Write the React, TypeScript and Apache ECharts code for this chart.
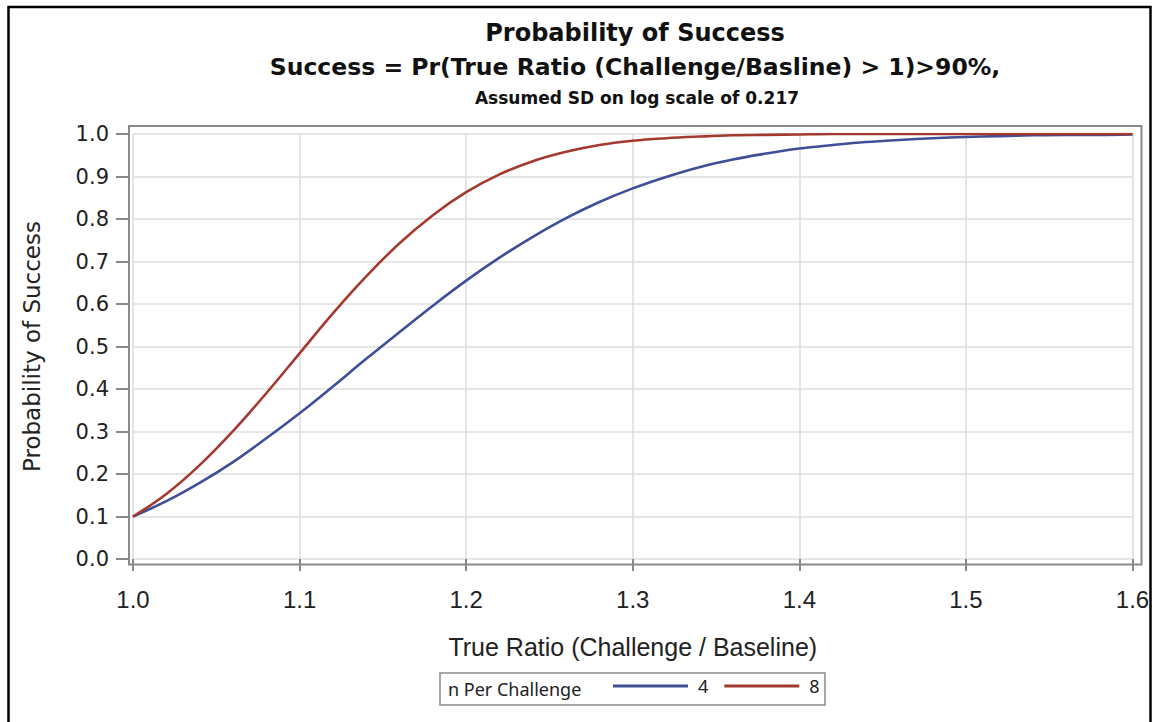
import React, { useEffect, useRef } from "react";
import * as echarts from "echarts";

// True ratio (Challenge / Baseline)
const trueRatio = [
  1.0, 1.02, 1.04, 1.06, 1.08, 1.1, 1.12, 1.14, 1.16, 1.18, 1.2, 1.22, 1.24, 1.26, 1.28, 1.3,
  1.32, 1.34, 1.36, 1.38, 1.4, 1.42, 1.44, 1.46, 1.48, 1.5, 1.52, 1.54, 1.56, 1.58, 1.6,
];

// Probability of success, n = 4 per challenge
const probN4 = [
  0.1, 0.136, 0.179, 0.228, 0.284, 0.343, 0.406, 0.471, 0.534, 0.596, 0.655, 0.709, 0.758, 0.802,
  0.84, 0.872, 0.899, 0.922, 0.94, 0.954, 0.966, 0.974, 0.981, 0.986, 0.99, 0.993, 0.995, 0.997,
  0.998, 0.998, 0.999,
];

// Probability of success, n = 8 per challenge
const probN8 = [
  0.1, 0.153, 0.221, 0.301, 0.39, 0.484, 0.578, 0.665, 0.743, 0.809, 0.863, 0.905, 0.936, 0.958,
  0.974, 0.984, 0.99, 0.994, 0.997, 0.998, 0.999, 1.0, 1.0, 1.0, 1.0, 1.0, 1.0, 1.0, 1.0, 1.0, 1.0,
];

const seriesNames = ["4", "8"];
const seriesColors = ["#3F4E96", "#A3392F"];

const titleLines = [
  "Probability of Success",
  "Success = Pr(True Ratio (Challenge/Basline) > 1)>90%,",
  "Assumed SD on log scale of 0.217",
];
const xAxisTitle = "True Ratio (Challenge / Baseline)";
const yAxisTitle = "Probability of Success";
const legendTitle = "n Per Challenge";

export default function App() {
  const ref = useRef<HTMLDivElement>(null);

  useEffect(() => {
    if (!ref.current) return;
    const chart = echarts.init(ref.current, null, { renderer: "svg" });

    const toPairs = (ys: number[]) => trueRatio.map((x, i) => [x, ys[i]]);

    chart.setOption({
      animation: false,
      backgroundColor: "#ffffff",
      grid: { left: 133, right: 21.5, top: 134, bottom: 163, containLabel: false },
      xAxis: {
        type: "value",
        min: 1.0,
        max: 1.6,
        interval: 0.1,
        offset: 5.5,
        axisLine: { show: false },
        axisTick: { show: true, length: 12, lineStyle: { color: "#888888", width: 2 } },
        axisLabel: {
          margin: 23,
          color: "#222222",
          fontFamily: "Liberation Sans",
          fontSize: 24,
          formatter: (v: number) => v.toFixed(1),
        },
        splitLine: { show: true, lineStyle: { color: "#DEDEDE", width: 1.6 } },
        name: xAxisTitle,
        nameLocation: "middle",
        nameGap: 70,
        nameTextStyle: { color: "#222222", fontFamily: "Liberation Sans", fontSize: 25 },
      },
      yAxis: {
        type: "value",
        min: 0,
        max: 1.0,
        interval: 0.1,
        offset: 4,
        axisLine: { show: false },
        axisTick: { show: true, length: 13, lineStyle: { color: "#888888", width: 2 } },
        axisLabel: {
          margin: 20,
          color: "#222222",
          fontFamily: "DejaVu Sans",
          fontSize: 21,
          formatter: (v: number) => v.toFixed(1),
        },
        splitLine: { show: true, lineStyle: { color: "#DEDEDE", width: 1.6 } },
        name: yAxisTitle,
        nameLocation: "middle",
        nameGap: 86,
        nameTextStyle: { color: "#222222", fontFamily: "DejaVu Sans", fontSize: 23 },
      },
      legend: {
        data: seriesNames,
        left: 613,
        top: 677,
        icon: "rect",
        itemWidth: 75,
        itemHeight: 3,
        itemGap: 16,
        padding: 0,
        textStyle: {
          color: "#222222",
          fontFamily: "Noto Sans",
          fontSize: 18,
          padding: [0, 0, 0, 5],
        },
      },
      series: [
        {
          name: seriesNames[0],
          type: "line",
          data: toPairs(probN4),
          smooth: 0.4,
          showSymbol: false,
          color: seriesColors[0],
          lineStyle: { color: seriesColors[0], width: 2.6 },
          z: 3,
        },
        {
          name: seriesNames[1],
          type: "line",
          data: toPairs(probN8),
          smooth: 0.4,
          showSymbol: false,
          color: seriesColors[1],
          lineStyle: { color: seriesColors[1], width: 2.6 },
          z: 4,
        },
      ],
      graphic: [
        {
          type: "rect",
          silent: true,
          z: 100,
          shape: { x: 8.5, y: 7, width: 1142, height: 780 },
          style: { fill: "none", stroke: "#000000", lineWidth: 2.5 },
        },
        {
          type: "rect",
          silent: true,
          z: 50,
          shape: { x: 129, y: 126, width: 1012.5, height: 438.5 },
          style: { fill: "none", stroke: "#8A8A8A", lineWidth: 2 },
        },
        {
          type: "text",
          silent: true,
          x: 635,
          y: 33,
          style: {
            text: titleLines[0],
            fill: "#111111",
            font: "bold 24px 'DejaVu Sans'",
            align: "center",
            verticalAlign: "middle",
          },
        },
        {
          type: "text",
          silent: true,
          x: 635,
          y: 67,
          style: {
            text: titleLines[1],
            fill: "#111111",
            font: "bold 23.5px 'DejaVu Sans'",
            align: "center",
            verticalAlign: "middle",
          },
        },
        {
          type: "text",
          silent: true,
          x: 637,
          y: 98,
          style: {
            text: titleLines[2],
            fill: "#111111",
            font: "bold 17px 'DejaVu Sans'",
            align: "center",
            verticalAlign: "middle",
          },
        },
        {
          type: "rect",
          silent: true,
          shape: { x: 440, y: 673, width: 385, height: 32 },
          style: { fill: "none", stroke: "#8A8A8A", lineWidth: 1.5 },
        },
        {
          type: "text",
          silent: true,
          x: 448,
          y: 689,
          style: {
            text: legendTitle,
            fill: "#222222",
            font: "18px 'Noto Sans'",
            align: "left",
            verticalAlign: "middle",
          },
        },
      ],
    });

    return () => chart.dispose();
  }, []);

  return (
    <div
      ref={ref}
      style={{ position: "fixed", left: 0, top: 0, width: 1154, height: 722, background: "#fff" }}
    />
  );
}
